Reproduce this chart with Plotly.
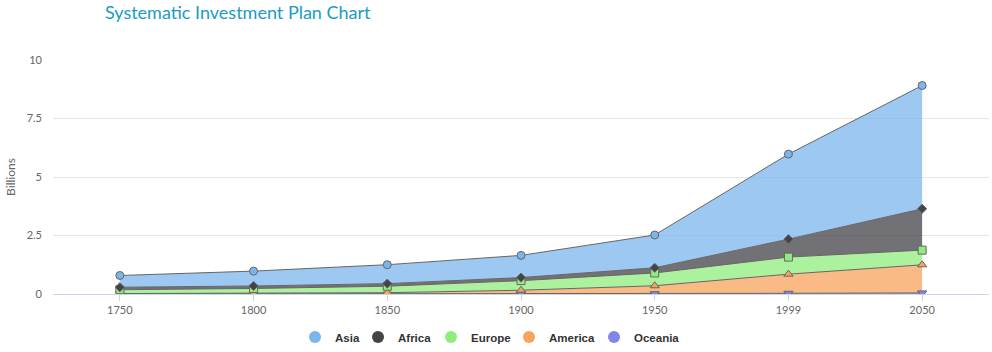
import plotly.graph_objects as go

years = ["1750", "1800", "1850", "1900", "1950", "1999", "2050"]
asia = [0.502, 0.635, 0.809, 0.947, 1.402, 3.634, 5.268]
africa = [0.106, 0.107, 0.111, 0.133, 0.221, 0.767, 1.766]
europe = [0.163, 0.203, 0.276, 0.408, 0.547, 0.729, 0.628]
america = [0.018, 0.031, 0.054, 0.156, 0.339, 0.818, 1.201]
oceania = [0.002, 0.002, 0.002, 0.006, 0.013, 0.030, 0.046]

series = [
    ("Oceania", oceania, "#8085e9", "triangle-down", 8),
    ("America", america, "#f7a35c", "triangle-up", 8),
    ("Europe", europe, "#90ed7d", "square", 8),
    ("Africa", africa, "#434348", "diamond", 7),
    ("Asia", asia, "#7cb5ec", "circle", 8),
]
# legend symbol pixel positions (left to right: Asia ... Oceania)
legend_px = [315, 378, 451, 529, 614]

def rgba(h, a):
    h = h.lstrip("#")
    return "rgba(%d,%d,%d,%s)" % (int(h[0:2], 16), int(h[2:4], 16), int(h[4:6], 16), a)

PL, PW, PT, PH = 53, 936, 60, 234
xs = list(range(len(years)))
fig = go.Figure()
for name, vals, col, sym, sz in series:
    fig.add_trace(go.Scatter(
        x=xs, y=vals, name=name, stackgroup="one", mode="lines+markers",
        line=dict(color="#666666", width=1),
        fillcolor=rgba(col, 0.75),
        marker=dict(symbol=sym, size=sz, color=col, line=dict(color="#666666", width=1)),
        showlegend=False,
    ))

legend_font = dict(family="'Liberation Sans', Arial, sans-serif", size=11.5, color="#333333", weight="bold")
layout_legends = {}
for i, ((name, vals, col, sym, sz), px) in enumerate(zip(reversed(series), legend_px)):
    key = "legend" if i == 0 else "legend%d" % (i + 1)
    fig.add_trace(go.Scatter(
        x=[None], y=[None], name=name, mode="markers", legend=key,
        marker=dict(symbol="circle", size=12, color=col), showlegend=True,
    ))
    layout_legends[key] = dict(
        x=(px - 20 - PL) / PW, xanchor="left", y=-(337 - 294) / PH, yanchor="middle",
        font=legend_font, itemwidth=30, bgcolor="rgba(0,0,0,0)",
    )

fig.update_layout(
    width=992, height=352,
    margin=dict(l=PL, r=992 - PL - PW, t=PT, b=352 - PT - PH, autoexpand=False),
    paper_bgcolor="white", plot_bgcolor="white",
    font=dict(family="Lato, 'Open Sans', sans-serif", color="#666666", size=11),
    title=dict(text="Systematic Investment Plan Chart", x=105/992, xanchor="left",
               xref="container", y=1 - 13/352, yref="container", yanchor="middle",
               font=dict(family="Lato, sans-serif", size=18, color="#1a9bc2")),
    showlegend=True,
    hovermode="x unified",
    **layout_legends,
)
fig.update_xaxes(
    tickmode="array", tickvals=xs, ticktext=years, range=[-0.5, 6.5],
    showgrid=False, showline=True, linecolor="#ccd6eb", linewidth=1,
    ticks="outside", ticklen=6, tickcolor="#ccd6eb", zeroline=False,
    tickfont=dict(size=11, color="#666666"),
)
fig.update_yaxes(
    range=[0, 10], tickvals=[0, 2.5, 5, 7.5, 10], ticktext=["0", "2.5", "5", "7.5", "10"],
    showgrid=True, gridcolor="#e6e6e6", zeroline=False, showline=False,
    ticklabelstandoff=10,
    title=dict(text="Billions", font=dict(size=12, color="#666666"), standoff=8),
    tickfont=dict(size=11, color="#666666"),
)
fig.write_html("out.html")
